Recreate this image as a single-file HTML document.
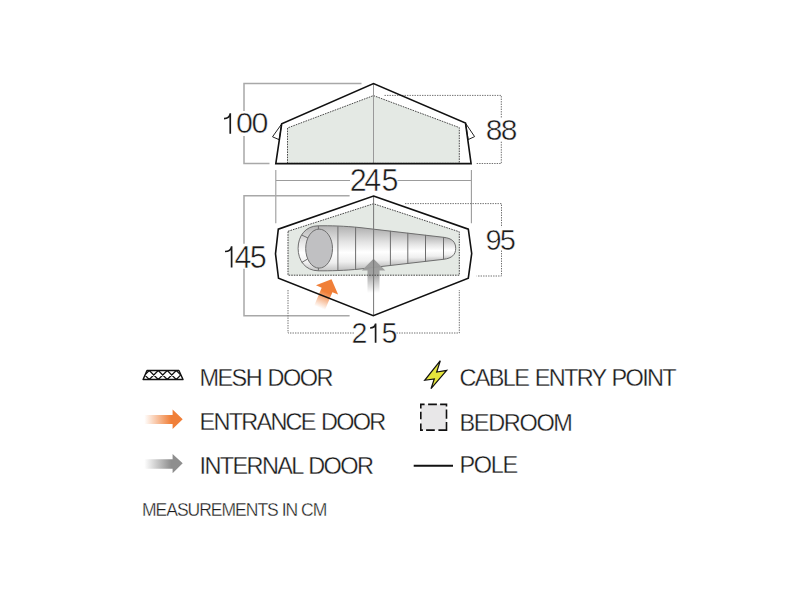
<!DOCTYPE html>
<html><head><meta charset="utf-8">
<style>
html,body{margin:0;padding:0;background:#fff;width:800px;height:600px;overflow:hidden}
svg{display:block}
text{font-family:"Liberation Sans",sans-serif;fill:#1a1a1a}
.d{stroke:#fff;stroke-width:0.5}
.l{stroke:#fff;stroke-width:0.3}
</style></head>
<body>
<svg width="800" height="600" viewBox="0 0 800 600">
<defs>
  <linearGradient id="grayUp" x1="0" y1="1" x2="0" y2="0">
    <stop offset="0" stop-color="#9a9a9a" stop-opacity="0"/>
    <stop offset="0.55" stop-color="#9a9a9a" stop-opacity="0.9"/>
    <stop offset="1" stop-color="#9a9a9a"/>
  </linearGradient>
  <linearGradient id="orangeUp" x1="0" y1="1" x2="0" y2="0">
    <stop offset="0" stop-color="#f07f38" stop-opacity="0"/>
    <stop offset="0.55" stop-color="#f07f38" stop-opacity="1"/>
    <stop offset="1" stop-color="#f07f38"/>
  </linearGradient>
  <linearGradient id="orangeL" x1="0" y1="0" x2="1" y2="0">
    <stop offset="0" stop-color="#f07f38" stop-opacity="0"/>
    <stop offset="0.7" stop-color="#f07f38"/>
    <stop offset="1" stop-color="#f07f38"/>
  </linearGradient>
  <linearGradient id="grayL" x1="0" y1="0" x2="1" y2="0">
    <stop offset="0" stop-color="#8e8e8e" stop-opacity="0"/>
    <stop offset="0.7" stop-color="#8e8e8e"/>
    <stop offset="1" stop-color="#8e8e8e"/>
  </linearGradient>
  <clipPath id="meshclip"><polygon points="147,370.5 178.9,370.5 183,379.5 143.1,379.5"/></clipPath>
</defs>

<!-- ===== ELEVATION ===== -->
<g fill="none" stroke="#a8a8a8" stroke-width="1.5">
  <path d="M269.5 163.5 H244 V136 M244 111 V83.6 H361.5"/>
</g>
<g fill="none" stroke="#707070" stroke-width="1" stroke-dasharray="1.4 1.1">
  <path d="M384.5 95.4 H501.3 V118 M501.3 141.7 V163.5 H475.8"/>
</g>
<polygon points="287.5,163.4 287.5,128 373.5,95.6 459.3,127.6 459.3,163.4" fill="#e4e9e4" stroke="#4a4a4a" stroke-width="1" stroke-dasharray="1.6 1"/>
<line x1="373.5" y1="84" x2="373.5" y2="163.4" stroke="#999" stroke-width="1"/>
<polygon points="281.6,124 272.5,136.8 279.2,139.7" fill="#fff" stroke="#222" stroke-width="1"/>
<polygon points="465.6,123.3 474.6,136.6 468.2,139.6" fill="#fff" stroke="#222" stroke-width="1"/>
<polygon points="275.8,163.6 281.7,123.8 373.5,83.5 465.5,123.1 471.1,163.6" fill="none" stroke="#111" stroke-width="1.6" stroke-linejoin="miter"/>

<!-- 245 -->
<g fill="none" stroke="#9c9c9c" stroke-width="1.1">
  <path d="M275.8 170 V223.3 M471.4 170 V223.3 M275.8 180.5 H350 M397.5 180.5 H471.4"/>
</g>

<!-- ===== PLAN ===== -->
<g fill="none" stroke="#a8a8a8" stroke-width="1.5">
  <path d="M349.6 195.7 H244 V243.7 M244 268.7 V315.7 H349.6"/>
</g>
<g fill="none" stroke="#707070" stroke-width="1" stroke-dasharray="1.4 1.1">
  <path d="M405 203.6 H501.5 V227.2 M501.5 250.5 V276 H476.7"/>
  <path d="M288 290 V333 H354.5 M396.5 333 H459.3 V290"/>
</g>
<polygon points="288,231.3 373.5,203.75 459.3,231.8 459.3,275.2 288,275.2" fill="#e4e9e4"/>
<!-- sleeping bag -->
<defs><linearGradient id="bg0" gradientUnits="userSpaceOnUse" x1="0" y1="225.80" x2="0" y2="270.80"><stop offset="0" stop-color="#b4b4b4"/><stop offset="0.35" stop-color="#e4e4e4"/><stop offset="0.6" stop-color="#ffffff"/><stop offset="0.82" stop-color="#efefef"/><stop offset="1" stop-color="#c4c4c4"/></linearGradient><linearGradient id="bg1" gradientUnits="userSpaceOnUse" x1="0" y1="227.03" x2="0" y2="269.57"><stop offset="0" stop-color="#b4b4b4"/><stop offset="0.35" stop-color="#e4e4e4"/><stop offset="0.6" stop-color="#ffffff"/><stop offset="0.82" stop-color="#efefef"/><stop offset="1" stop-color="#c4c4c4"/></linearGradient><linearGradient id="bg2" gradientUnits="userSpaceOnUse" x1="0" y1="228.29" x2="0" y2="268.31"><stop offset="0" stop-color="#b4b4b4"/><stop offset="0.35" stop-color="#e4e4e4"/><stop offset="0.6" stop-color="#ffffff"/><stop offset="0.82" stop-color="#efefef"/><stop offset="1" stop-color="#c4c4c4"/></linearGradient><linearGradient id="bg3" gradientUnits="userSpaceOnUse" x1="0" y1="230.15" x2="0" y2="266.45"><stop offset="0" stop-color="#b4b4b4"/><stop offset="0.35" stop-color="#e4e4e4"/><stop offset="0.6" stop-color="#ffffff"/><stop offset="0.82" stop-color="#efefef"/><stop offset="1" stop-color="#c4c4c4"/></linearGradient><linearGradient id="bg4" gradientUnits="userSpaceOnUse" x1="0" y1="232.14" x2="0" y2="264.46"><stop offset="0" stop-color="#b4b4b4"/><stop offset="0.35" stop-color="#e4e4e4"/><stop offset="0.6" stop-color="#ffffff"/><stop offset="0.82" stop-color="#efefef"/><stop offset="1" stop-color="#c4c4c4"/></linearGradient><linearGradient id="bg5" gradientUnits="userSpaceOnUse" x1="0" y1="234.17" x2="0" y2="262.43"><stop offset="0" stop-color="#b4b4b4"/><stop offset="0.35" stop-color="#e4e4e4"/><stop offset="0.6" stop-color="#ffffff"/><stop offset="0.82" stop-color="#efefef"/><stop offset="1" stop-color="#c4c4c4"/></linearGradient><linearGradient id="bg6" gradientUnits="userSpaceOnUse" x1="0" y1="236.24" x2="0" y2="260.36"><stop offset="0" stop-color="#b4b4b4"/><stop offset="0.35" stop-color="#e4e4e4"/><stop offset="0.6" stop-color="#ffffff"/><stop offset="0.82" stop-color="#efefef"/><stop offset="1" stop-color="#c4c4c4"/></linearGradient><linearGradient id="bg7" gradientUnits="userSpaceOnUse" x1="0" y1="238.01" x2="0" y2="258.59"><stop offset="0" stop-color="#b4b4b4"/><stop offset="0.35" stop-color="#e4e4e4"/><stop offset="0.6" stop-color="#ffffff"/><stop offset="0.82" stop-color="#efefef"/><stop offset="1" stop-color="#c4c4c4"/></linearGradient><clipPath id="bagclip"><path d="M318.5 225.8 C330 225.6 345 226 360 227.6 L443.5 237.3 C452 238.2 455.7 242 455.7 248.3 C455.7 254.5 452 258.4 443.5 259.3 L360 269 C345 270.6 330 270.9 318.5 270.8 C305 270.8 298.1 260 298.1 248.3 C298.1 236.5 305 225.8 318.5 225.8 Z"/></clipPath></defs>
<g clip-path="url(#bagclip)"><rect x="296" y="220" width="42.39999999999998" height="56" fill="url(#bg0)"/><rect x="337.4" y="220" width="18.300000000000047" height="56" fill="url(#bg1)"/><rect x="355.1" y="220" width="18.49999999999998" height="56" fill="url(#bg2)"/><rect x="373.0" y="220" width="17.49999999999998" height="56" fill="url(#bg3)"/><rect x="389.9" y="220" width="18.000000000000036" height="56" fill="url(#bg4)"/><rect x="407.3" y="220" width="18.29999999999999" height="56" fill="url(#bg5)"/><rect x="425.0" y="220" width="18.6" height="56" fill="url(#bg6)"/><rect x="443.0" y="220" width="13.1" height="56" fill="url(#bg7)"/></g>
<path d="M318.5 225.8 C330 225.6 345 226 360 227.6 L443.5 237.3 C452 238.2 455.7 242 455.7 248.3 C455.7 254.5 452 258.4 443.5 259.3 L360 269 C345 270.6 330 270.9 318.5 270.8 C305 270.8 298.1 260 298.1 248.3 C298.1 236.5 305 225.8 318.5 225.8 Z" fill="none" stroke="#6e6e6e" stroke-width="1"/>
<g stroke="#6e6e6e" stroke-width="1" fill="none"><line x1="337.9" y1="226.34" x2="337.9" y2="270.26"/><line x1="355.6" y1="227.11" x2="355.6" y2="269.49"/><line x1="390.4" y1="230.83" x2="390.4" y2="265.77"/><line x1="407.8" y1="232.84" x2="407.8" y2="263.76"/><line x1="425.5" y1="234.90" x2="425.5" y2="261.70"/><line x1="443.5" y1="236.99" x2="443.5" y2="259.61"/>
  <line x1="318.4" y1="225.8" x2="318.4" y2="229.3"/>
  <line x1="318.4" y1="267.9" x2="318.4" y2="270.8"/>
  <path d="M301.7 235 L308 238 M301.7 262.5 L307.6 259"/>
</g>
<ellipse cx="319.1" cy="248.6" rx="13.4" ry="19.5" fill="#c0c0c2" stroke="#6e6e6e" stroke-width="1"/>
<!-- gray arrow up -->
<path d="M367.5 293 V270.5 H361.8 L373.5 258.8 L385.3 270.5 H379.5 V293 Z" fill="url(#grayUp)"/>
<!-- orange arrow -->
<g transform="translate(331.5,279.2) rotate(22.6)">
  <path d="M-5.8 31 V11.6 H-12 L0 0 L12 11.6 H5.8 V31 Z" fill="url(#orangeUp)"/>
</g>
<polygon points="288,231.3 373.5,203.75 459.3,231.8 459.3,275.2 288,275.2" fill="none" stroke="#444" stroke-width="1" stroke-dasharray="1.6 1"/>
<line x1="373.6" y1="196" x2="373.6" y2="315.7" stroke="#777" stroke-width="1"/>
<polygon points="373.5,196 468.3,229.2 471.7,253.5 468.3,278.2 373.3,315.7 278.5,278.3 275.5,253.8 278.3,229.2" fill="none" stroke="#111" stroke-width="1.6"/>

<!-- digits -->
<path d="M230.25 133.70 V113.30 M224.00 118.60 C227.00 118.60 229.45 117.60 230.25 113.90" fill="none" stroke="#1a1a1a" stroke-width="1.7"/>
<text class="d" x="235.96" y="133.20" font-size="30.4">0</text>
<text class="d" x="251.46" y="133.20" font-size="30.4">0</text>
<text class="d" x="485.85" y="139.90" font-size="30">8</text>
<text class="d" x="500.85" y="139.90" font-size="30">8</text>
<text class="d" x="349.72" y="190.60" font-size="30.5">2</text>
<text class="d" x="364.35" y="190.60" font-size="30.5">4</text>
<text class="d" x="381.43" y="190.60" font-size="30.5">5</text>
<path d="M231.60 267.60 V246.30 M225.00 251.50 C228.00 251.50 230.80 250.50 231.60 246.90" fill="none" stroke="#1a1a1a" stroke-width="1.7"/>
<text class="d" x="234.55" y="268.30" font-size="30.5">4</text>
<text class="d" x="249.83" y="268.30" font-size="30.5">5</text>
<text class="d" x="485.54" y="249.50" font-size="29">9</text>
<text class="d" x="499.79" y="249.50" font-size="29">5</text>
<text class="d" x="351.61" y="342.70" font-size="28.7">2</text>
<path d="M375.60 342.70 V323.50 M370.10 328.00 C373.10 328.00 374.80 327.00 375.60 324.10" fill="none" stroke="#1a1a1a" stroke-width="1.7"/>
<text class="d" x="381.40" y="342.70" font-size="28.7">5</text>

<!-- ===== LEGEND ===== -->
<g clip-path="url(#meshclip)" stroke="#111" stroke-width="1.15">
  <path d="M140.25 370.5 L149.25 379.5 M149.25 370.5 L158.25 379.5 M158.25 370.5 L167.25 379.5 M167.25 370.5 L176.25 379.5 M176.25 370.5 L185.25 379.5
           M149.25 370.5 L140.25 379.5 M158.25 370.5 L149.25 379.5 M167.25 370.5 L158.25 379.5 M176.25 370.5 L167.25 379.5 M185.25 370.5 L176.25 379.5"/>
</g>
<polygon points="147,370.5 178.9,370.5 183,379.5 143.1,379.5" fill="none" stroke="#111" stroke-width="1.45" stroke-linejoin="round"/>
<text class="l" x="199.5" y="386.2" font-size="23.5" letter-spacing="-1.57" word-spacing="1.5">MESH DOOR</text>

<path d="M144.3 415 H172.6 V409.6 L182.7 419.3 L172.6 429 V424 H144.3 Z" fill="url(#orangeL)"/>
<text class="l" x="199.5" y="430" font-size="23.5" letter-spacing="-1.75" word-spacing="1.5">ENTRANCE DOOR</text>

<path d="M144.3 459.3 H172.6 V454 L182.7 463.3 L172.6 473.3 V468.7 H144.3 Z" fill="url(#grayL)"/>
<text class="l" x="199.5" y="474" font-size="23.5" letter-spacing="-1.625" word-spacing="1.5">INTERNAL DOOR</text>

<polygon points="440.3,360.7 424.7,380.3 434.3,379 431,388.7 446.7,370.3 436.7,372" fill="#e6e63c" stroke="#111" stroke-width="1.2" stroke-linejoin="miter"/>
<text class="l" x="459.5" y="386.4" font-size="23.5" letter-spacing="-1.66" word-spacing="1.5">CABLE ENTRY POINT</text>

<rect x="420.8" y="404.4" width="25.7" height="25.7" fill="#e8e7e8"/>
<path d="M420.8 408.5 V404.4 H424.6 M428.1 404.4 H436.9 M440.1 404.4 H446.5 V406.4 M446.5 409.6 V418.7 M446.5 421.9 V430.1 H438.4 M434.8 430.1 H426.1 M422.9 430.1 H420.8 V423.6 M420.8 419.3 V411.7" fill="none" stroke="#111" stroke-width="1.6" stroke-linecap="butt"/>
<text class="l" x="459.5" y="430.5" font-size="23.5" letter-spacing="-1.33">BEDROOM</text>

<line x1="413.7" y1="465.7" x2="453" y2="465.7" stroke="#111" stroke-width="2"/>
<text class="l" x="459.5" y="473.4" font-size="23.5" letter-spacing="-1.33">POLE</text>

<text class="l" x="142" y="515.6" font-size="17.5" letter-spacing="-1">MEASUREMENTS IN CM</text>
</svg>
</body></html>
